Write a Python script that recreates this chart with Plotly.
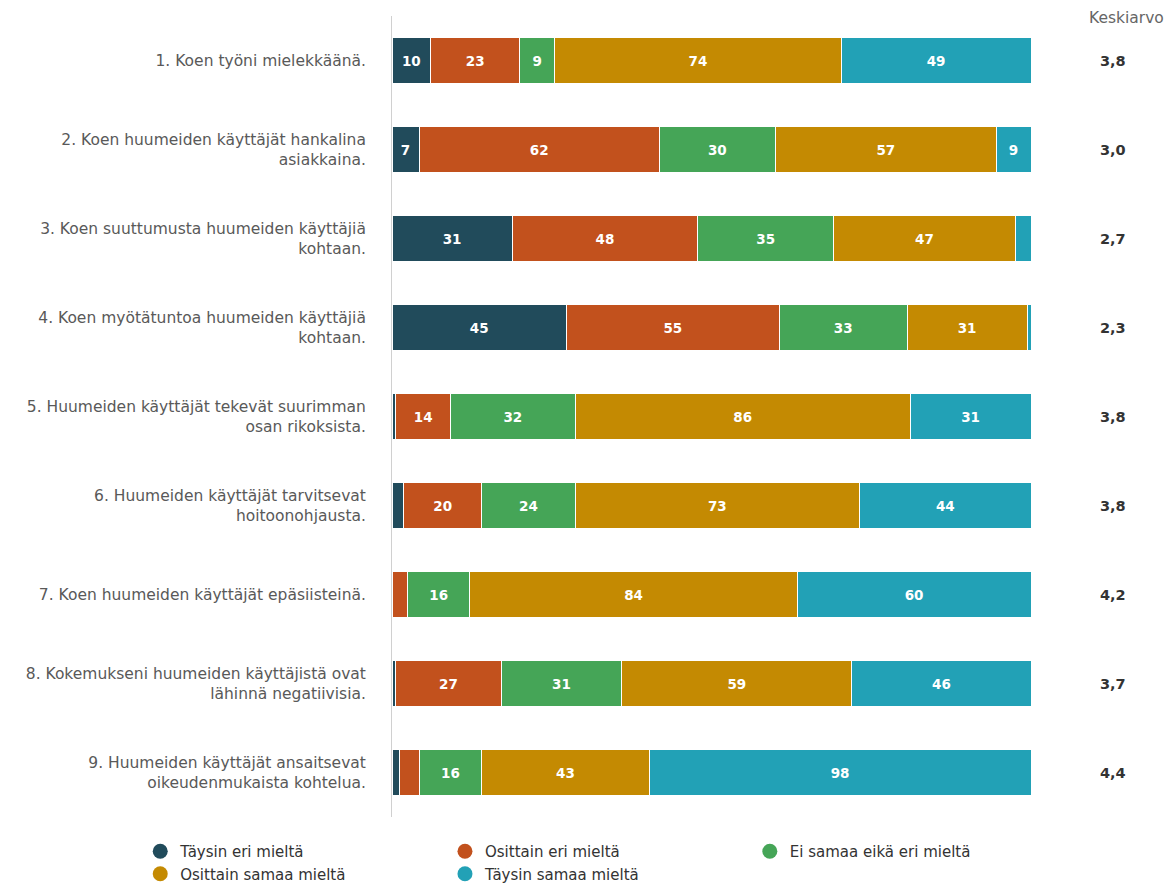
import plotly.graph_objects as go

categories = [
    "1. Koen työni mielekkäänä.",
    "2. Koen huumeiden käyttäjät hankalina<br>asiakkaina.",
    "3. Koen suuttumusta huumeiden käyttäjiä<br>kohtaan.",
    "4. Koen myötätuntoa huumeiden käyttäjiä<br>kohtaan.",
    "5. Huumeiden käyttäjät tekevät suurimman<br>osan rikoksista.",
    "6. Huumeiden käyttäjät tarvitsevat<br>hoitoonohjausta.",
    "7. Koen huumeiden käyttäjät epäsiisteinä.",
    "8. Kokemukseni huumeiden käyttäjistä ovat<br>lähinnä negatiivisia.",
    "9. Huumeiden käyttäjät ansaitsevat<br>oikeudenmukaista kohtelua.",
]
series_names = ["Täysin eri mieltä", "Osittain eri mieltä", "Ei samaa eikä eri mieltä",
                "Osittain samaa mieltä", "Täysin samaa mieltä"]
taysin_eri = [10, 7, 31, 45, 1, 3, 0, 1, 2]
osittain_eri = [23, 62, 48, 55, 14, 20, 4, 27, 5]
ei_samaa = [9, 30, 35, 33, 32, 24, 16, 31, 16]
osittain_samaa = [74, 57, 47, 31, 86, 73, 84, 59, 43]
taysin_samaa = [49, 9, 4, 1, 31, 44, 60, 46, 98]
keskiarvo = ["3,8", "3,0", "2,7", "2,3", "3,8", "3,8", "4,2", "3,7", "4,4"]

colors = ["#214b5b", "#c2511d", "#45a557", "#c48a02", "#22a1b6"]
series = [taysin_eri, osittain_eri, ei_samaa, osittain_samaa, taysin_samaa]
# legend column for each series (reads left-to-right, wrapping after three)
legend_ids = ["legend", "legend2", "legend3", "legend", "legend2"]

FONT = "DejaVu Sans"

fig = go.Figure()
for name, vals, col in zip(series_names, series, colors):
    fig.add_trace(go.Bar(
        y=categories, x=vals, orientation="h", name=name,
        marker=dict(color=col, line=dict(color="white", width=1)),
        text=["<b>" + str(v) + "</b>" if v >= 6 else "" for v in vals],
        textposition="inside", insidetextanchor="middle",
        textfont=dict(color="white", size=13.5, family=FONT),
        showlegend=False, hoverinfo="skip",
    ))
for idx in [0, 3, 1, 4, 2]:
    fig.add_trace(go.Scatter(
        x=[None], y=[None], mode="markers", name=series_names[idx],
        legend=legend_ids[idx], hoverinfo="skip",
        marker=dict(color=colors[idx], size=15, symbol="circle"),
    ))

for cat, k in zip(categories, keskiarvo):
    fig.add_annotation(x=1.128, xref="paper", xanchor="center", y=cat, yref="y",
                       text="<b>" + k + "</b>", showarrow=False,
                       font=dict(size=14.5, color="#333333", family=FONT))
fig.add_annotation(x=1.150, xref="paper", xanchor="center", y=1.0, yref="paper",
                   text="Keskiarvo", showarrow=False, yanchor="middle", yshift=-2,
                   font=dict(size=15.5, color="#666666", family=FONT))

leg_common = dict(orientation="h", xref="paper", yref="container", xanchor="left",
                  y=0.0576, yanchor="top", traceorder="normal", tracegroupgap=0,
                  bgcolor="rgba(0,0,0,0)", entrywidthmode="pixels",
                  font=dict(size=15, color="#333333", family=FONT))

fig.update_layout(
    width=1175, height=886,
    barmode="stack", barnorm="fraction", bargap=0.48,
    plot_bgcolor="white", paper_bgcolor="white",
    margin=dict(l=392, r=144, t=16, b=69),
    font=dict(family=FONT, color="#555555", size=15.5),
    xaxis=dict(visible=False, range=[0, 1]),
    yaxis=dict(autorange="reversed", showline=True, linecolor="#d0d0d0", linewidth=1,
               ticks="", showgrid=False, ticklabelstandoff=22,
               tickfont=dict(size=15.5, color="#595959", family=FONT)),
    legend=dict(x=-0.394, entrywidth=300, **leg_common),
    legend2=dict(x=0.0829, entrywidth=340, **leg_common),
    legend3=dict(x=0.560, entrywidth=260, **leg_common),
    showlegend=True,
)

fig.write_html("out.html", config={"displayModeBar": False},
               post_script="document.body.style.margin='0';document.body.style.overflow='hidden';")
